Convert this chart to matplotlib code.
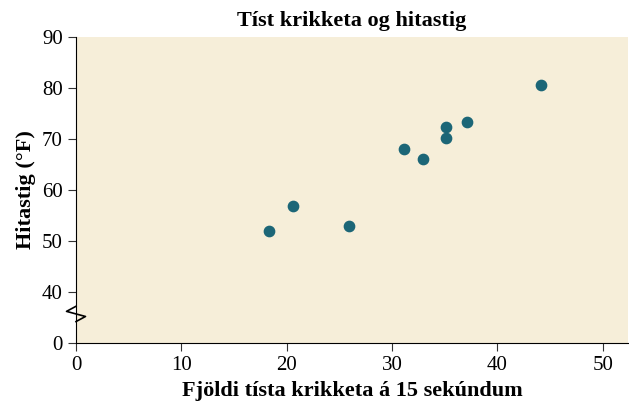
import matplotlib
matplotlib.use("Agg")
import matplotlib.pyplot as plt

chirps = [18.3, 20.6, 25.9, 31.1, 32.9, 35.1, 35.1, 37.1, 44.1]
temps = [52.0, 56.9, 52.9, 68.0, 66.0, 72.4, 70.2, 73.3, 80.6]
yticks = [30, 40, 50, 60, 70, 80, 90]
yticklabels = ["0", "40", "50", "60", "70", "80", "90"]
xticks = [0, 10, 20, 30, 40, 50]

plt.rcParams['font.family'] = ['Liberation Serif', 'DejaVu Serif']
fig = plt.figure(figsize=(6.29, 4.18), dpi=100)
ax = fig.add_axes([76/629, 1-343/418, 552/629, 306/418])
ax.set_facecolor('#f6eed9')
ax.scatter(chirps, temps, s=55, color='#1c6677', zorder=3)
ax.set_xlim(0, 52.4)
ax.set_ylim(30, 90)
ax.set_xticks(xticks)
ax.set_yticks(yticks)
ax.set_yticklabels(yticklabels)
ax.tick_params(labelsize=15, length=6, color='#333333')
for s in ['top', 'right']:
    ax.spines[s].set_visible(False)
ax.set_title('Tíst krikketa og hitastig', fontsize=16, fontweight='bold', pad=8)
ax.set_xlabel('Fjöldi tísta krikketa á 15 sekúndum', fontsize=16, fontweight='bold')
ax.set_ylabel('Hitastig (°F)', fontsize=16, fontweight='bold')
# axis break zigzag
bx = [0, -0.6, 0.6, 0]
by = [36.5, 35.8, 35.0, 34.3]
ax.plot([-0.0, -0.9, 0.9, 0.0], [37.2, 36.2, 35.2, 34.2], color='black', lw=1.2,
        clip_on=False, zorder=5)
fig.savefig('out.png', dpi=100)
